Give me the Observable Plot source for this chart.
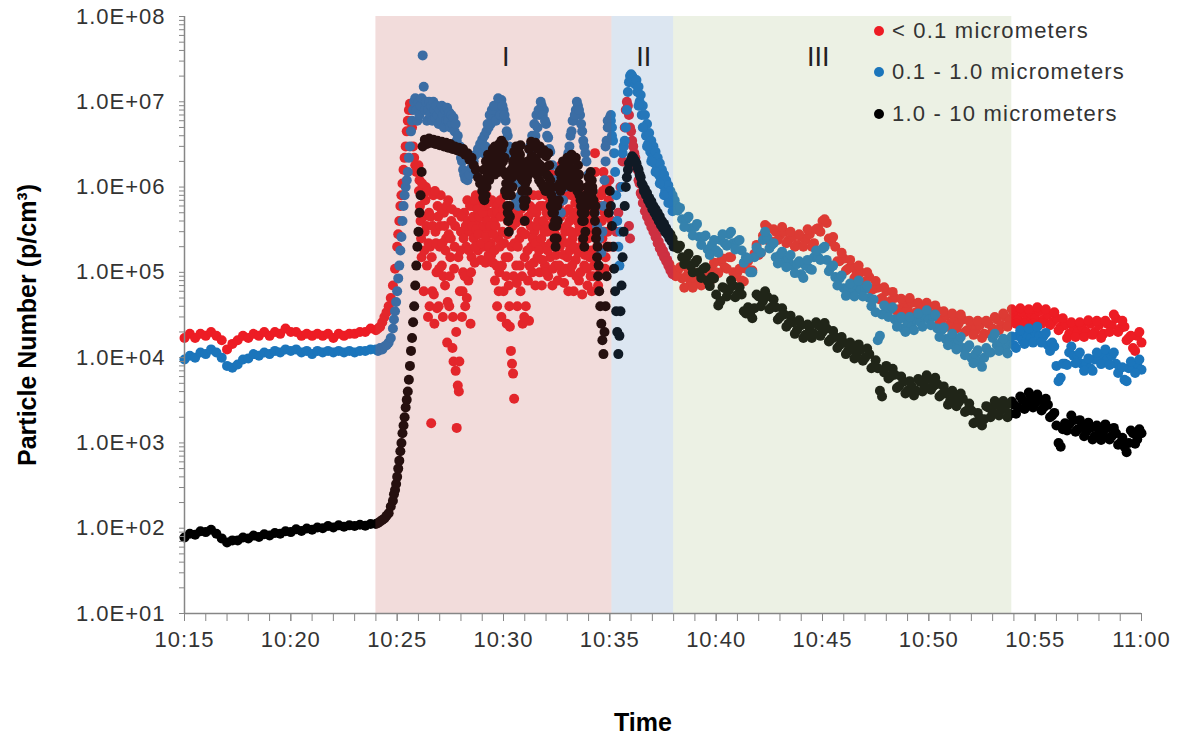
<!DOCTYPE html>
<html><head><meta charset="utf-8">
<script src="https://cdn.jsdelivr.net/npm/d3@7"></script>
<script src="https://cdn.jsdelivr.net/npm/@observablehq/plot@0.6"></script>
<style>
html,body{margin:0;padding:0;background:#fff;}
#chart{position:relative;width:1180px;height:740px;font-family:"Liberation Sans",Arial,sans-serif;}
.legend{position:absolute;left:874px;top:10px;font-size:22px;letter-spacing:1.2px;color:#333;}
.legend .row{height:41.5px;display:flex;align-items:center;}
.legend .sw{display:inline-block;width:10px;height:10px;border-radius:50%;margin-right:8px;}
</style></head><body><div id="chart"></div>
<script>
// [minutes after 10:15, particle number (p/cm3)]
const red = [
[0,1.7e4],[0.25,1.9e4],[0.5,1.7e4],[0.75,1.9e4],[1,1.8e4],[1.25,2e4],[1.5,1.8e4],[1.75,1.6e4],[2,1.25e4],[2.25,1.45e4],[2.5,1.6e4],[2.75,1.8e4],
[3,1.7e4],[3.25,1.9e4],[3.5,1.8e4],[3.75,2e4],[4,1.8e4],[4.25,2e4],[4.5,1.9e4],[4.75,2.2e4],[5,2e4],[5.25,2e4],[5.5,1.8e4],[5.75,1.9e4],
[6,1.8e4],[6.25,1.9e4],[6.5,1.8e4],[6.75,1.9e4],[7,1.7e4],[7.25,1.9e4],[7.5,1.8e4],[7.75,1.9e4],[8,1.9e4],[8.25,2e4],[8.5,2e4],[8.75,2.2e4],[9,2.1e4],
[9.1,2.2e4],[9.2,2.3e4],[9.3,2.6e4],[9.4,3e4],[9.5,3.4e4],[9.6,4e4],[9.7,5e4],[9.8,7e4],[9.9,1.1e5],[10,2e5],
[10.05,2.8e5],[10.1,4e5],[10.15,6e5],[10.2,8e5],[10.25,1.1e6],[10.3,1.6e6],[10.35,2.2e6],[10.4,3e6],[10.45,4.5e6],[10.5,6e6],
[10.55,8e6],[10.6,9.5e6],[10.65,8e6],[10.7,5e6],[10.75,3e6],[10.8,2.2e6],[10.85,1.8e6],[10.9,1.5e6],[10.95,1.7e6],[11,1.8e6],
[11.05,1.2e6],[11.1,4e5],[11.15,1.5e5],[11.2,8e5],[11.25,6e4],[11.3,3e5],[11.35,1e6],[11.4,1.2e5],[11.45,3e4],[11.5,5e5],
[11.55,2e5],[11.6,1.7e3],[11.65,6e4],[11.7,8e5],[11.75,2.5e4],[11.8,3e5],[11.85,1e5],[11.9,6e5],[11.95,4e4],[12,2e5],
[12.05,8e5],[12.1,1.2e5],[12.15,3e4],[12.2,5e5],[12.25,7e4],[12.3,2.5e5],[12.35,1.5e4],[12.4,7e5],[12.45,4e4],[12.5,1.5e5],
[12.55,4e5],[12.6,1.3e4],[12.65,9e3],[12.7,2e5],[12.75,7e3],[12.8,1.5e3],[12.85,4.7e3],[12.9,4e3],[12.95,6e4],[13,3e5],
[13.05,3e4],[13.1,1e5],[13.15,5e5],[13.2,4e4],[13.25,2e5],[13.3,7e5],[13.35,8e4],[13.4,3e5],[13.45,2.5e4],[13.5,1.5e5],
[13.55,6e5],[13.6,2.5e5],[13.65,1.3e5],[13.7,8e5],[13.75,4e5],[13.8,1.8e5],[13.85,6e5],[13.9,3e5],[13.95,1.4e5],[14,7e5],
[14.05,2e5],[14.1,4.5e5],[14.15,1.3e5],[14.2,8e5],[14.25,3e5],[14.3,1.6e5],[14.35,5e5],[14.4,2.2e5],[14.45,7e5],[14.5,1.3e5],
[14.55,4e5],[14.6,8e4],[14.65,6e5],[14.7,4e4],[14.75,2.5e5],[14.8,1e5],[14.85,7e5],[14.9,3e4],[14.95,3e5],[15,6e4],
[15.05,8e5],[15.1,1.5e5],[15.15,2.5e4],[15.2,4e5],[15.25,7e4],[15.3,2.3e4],[15.35,1.2e4],[15.4,8.5e3],[15.45,6.5e3],[15.5,3.3e3],
[15.55,5e5],[15.6,1.2e5],[15.65,4e4],[15.7,7e5],[15.75,2.5e5],[15.8,6e4],[15.85,3e5],[15.9,2.5e4],[15.95,8e5],[16,1.5e5],
[16.05,4e4],[16.1,4e5],[16.15,8e4],[16.2,2.7e4],[16.25,6e5],[16.3,2e5],[16.35,1e5],[16.4,8e5],[16.45,3e5],[16.5,7e4],
[16.55,5e5],[16.6,1.5e5],[16.65,8e5],[16.7,1e5],[16.75,3.5e5],[16.8,7e4],[16.85,6e5],[16.9,2e5],[16.95,1.2e5],[17,8e5],
[17.05,3e5],[17.1,9e4],[17.15,5e5],[17.2,1.5e5],[17.25,1.4e6],[17.3,7e4],[17.35,3e5],[17.4,8e5],[17.45,1.2e5],[17.5,4e5],
[17.55,8e4],[17.6,6e5],[17.65,2e5],[17.7,1.8e6],[17.75,1e5],[17.8,5e5],[17.85,7.5e4],[17.9,3e5],[17.95,8e5],[18,1.5e5],
[18.05,6e4],[18.1,4e5],[18.15,1e5],[18.2,8e5],[18.25,2.5e5],[18.3,6e4],[18.35,5e5],[18.4,1.4e5],[18.45,7e5],[18.5,3e5],
[18.55,8e4],[18.6,6e5],[18.65,2e5],[18.7,5.5e4],[18.75,4e5],[18.8,1.2e5],[18.85,8e5],[18.9,3e5],[18.95,7e4],[19,5e5],
[19.05,1.5e5],[19.1,9e4],[19.15,6e4],[19.2,3e5],[19.25,1.2e5],[19.3,2.5e6],[19.35,6e5],[19.4,2e5],[19.45,7e4],[19.5,4e5],
[19.55,1e5],[19.6,8e5],[19.65,2.5e5],[19.7,1.5e6],[19.75,5e5],[19.8,1.5e5],[19.85,1e6],[19.9,3e5],[19.95,7e5],[20,2e5],
[20.1,4e5],[20.2,2e5],[20.3,3e5],[20.4,5e5],[20.5,1e6],[20.6,2e6],[20.65,3e6],[20.7,5e6],[20.75,8e6],[20.8,1e7],
[20.85,9e6],[20.9,7e6],[20.9,3.5e5],[20.95,5e6],[20.95,2.5e5],[21,4.5e6],[21.05,3.5e6],[21.1,3e6],[21.2,2.2e6],[21.3,1.6e6],
[21.4,1.1e6],[21.5,8e5],[21.6,6.5e5],[21.7,5.5e5],[21.8,4.7e5],[21.9,4e5],[22,3.5e5],[22.1,3.1e5],[22.2,2.7e5],[22.3,2.3e5],
[22.4,2e5],[22.5,1.8e5],[22.6,1.6e5],[22.7,1.4e5],[22.8,1.25e5],[22.9,1.1e5],[23,1e5],
[23.2,1.05e5],[23.4,8.5e4],[23.6,9e4],[23.8,7.5e4],[24,8.5e4],[24.2,7.5e4],[24.4,9.5e4],[24.6,8e4],[24.8,1.1e5],[25,1e5],
[25.2,1.35e5],[25.4,1.15e5],[25.6,1.5e5],[25.8,1e5],[26,1e5],[26.2,8e4],[26.4,1.1e5],[26.6,1.05e5],[26.8,1.65e5],[27,1.6e5],
[27.2,2.7e5],[27.4,3.4e5],[27.6,2.3e5],[27.8,3e5],[28,2.7e5],[28.2,3e5],[28.4,2.4e5],[28.6,2.6e5],[28.8,2.1e5],[29,2.6e5],
[29.2,2.4e5],[29.4,2.8e5],[29.6,2.2e5],[29.8,3.3e5],[30,4e5],[30.2,3.8e5],[30.4,2.3e5],[30.6,2e5],[30.8,1.35e5],[31,1.45e5],
[31.2,1.1e5],[31.4,1.15e5],[31.6,9.5e4],[31.8,1e5],[32,7.8e4],[32.2,8.8e4],[32.4,6.4e4],[32.6,6.6e4],[32.8,5e4],[33,6e4],
[33.2,4.6e4],[33.4,5e4],[33.6,3.7e4],[33.8,4.4e4],[34,3.8e4],[34.2,4.4e4],[34.4,3.4e4],[34.6,3.9e4],[34.8,3.3e4],[35,4e4],
[35.2,3.2e4],[35.4,3.6e4],[35.6,2.8e4],[35.8,3.1e4],[36,2.5e4],[36.2,2.9e4],[36.4,2.5e4],[36.6,2.8e4],[36.8,2.1e4],[37,2.4e4],
[37.2,2.1e4],[37.4,2.4e4],[37.6,1.9e4],[37.8,2.5e4],[38,2.2e4],[38.2,2.8e4],[38.4,2.4e4],[38.6,3e4],[38.8,2.7e4],[39,3.3e4],
[39.2,2.8e4],[39.4,3.4e4],[39.6,2.8e4],[39.8,3.3e4],[40,2.9e4],[40.2,3.5e4],[40.4,2.8e4],[40.6,3.2e4],[40.8,2.6e4],[41,2.9e4],
[41.2,2.3e4],[41.4,2.4e4],[41.6,1.9e4],[41.8,2.3e4],[42,2e4],[42.2,2.3e4],[42.4,2e4],[42.6,2.5e4],[42.8,2e4],[43,2.4e4],
[43.2,1.9e4],[43.4,2.5e4],[43.6,2.4e4],[43.8,2.9e4],[44,2.2e4],[44.2,2.3e4],[44.4,1.7e4],[44.6,1.3e4],[44.8,1.8e4],[45,1.5e4]
];
const redExtra = [
[11.025,9e5],[11.075,6e5],[11.125,2.5e5],[11.175,1.1e6],[11.225,4.5e5],[11.275,1.8e5],[11.325,7e5],[11.375,3.5e5],[11.425,9e5],[11.475,2.2e5],
[11.525,4e4],[11.575,4.5e5],[11.625,1.5e5],[11.675,3.5e5],[11.725,5.5e4],[11.775,9e5],[11.825,2.2e5],[11.875,3.8e4],[11.925,4.5e5],[11.975,1.1e5],
[12.025,3.5e5],[12.075,5.5e5],[12.125,2.2e5],[12.175,9e4],[12.225,3.5e5],[12.275,1.8e5],[12.325,6e5],[12.375,4.5e4],[12.425,2.8e5],[12.475,9e4],
[12.525,2.5e5],[12.575,5.5e5],[12.625,3e4],[12.675,1.1e5],[12.725,3.5e5],[12.775,2e4],[12.825,5e5],[12.875,1.5e5],[12.925,9e3],[12.975,1.8e5],
[13.025,4.5e5],[13.075,6e4],[13.125,2.5e5],[13.175,9e4],[13.225,3.5e5],[13.275,5e4],[13.325,4e5],[13.375,1.8e5],[13.425,6e5],[13.475,1e5],
[13.525,3.5e5],[13.575,4.5e5],[13.625,7e5],[13.675,2e5],[13.725,3.2e5],[13.775,5.5e5],[13.825,2.8e5],[13.875,4.5e5],[13.925,7.5e5],[13.975,2.2e5],
[14.025,5e5],[14.075,3.5e5],[14.125,6e5],[14.175,2.6e5],[14.225,4e5],[14.275,6.5e5],[14.325,2e5],[14.375,3.5e5],[14.425,1.6e5],[14.475,5e5],
[14.525,2.8e5],[14.575,1.8e5],[14.625,3.5e5],[14.675,1.2e5],[14.725,5e5],[14.775,6e4],[14.825,2e5],[14.875,4.5e5],[14.925,1.2e5],[14.975,5.5e5],
[15.025,2.2e5],[15.075,4.5e5],[15.125,9e4],[15.175,2.8e5],[15.225,1.5e5],[15.275,4e4],[15.325,5e5],[15.375,2e5],[15.425,3.5e5],[15.475,9e4],
[15.525,2.2e5],[15.575,3.8e5],[15.625,7.5e4],[15.675,2e5],[15.725,4.5e5],[15.775,1.2e5],[15.825,5.5e5],[15.875,9e4],[15.925,4e5],[15.975,3e4],
[16.025,2.8e5],[16.075,6e5],[16.125,1.8e5],[16.175,4.5e5],[16.225,1.2e5],[16.275,3.5e5],[16.325,5e5],[16.375,2.5e5],[16.425,1.3e5],[16.475,5.5e5],
[16.525,2.2e5],[16.575,3.5e5],[16.625,4e5],[16.675,1.8e5],[16.725,6e5],[16.775,2.5e5],[16.825,1.4e5],[16.875,4e5],[16.925,3e5],[16.975,1e5],
[17.025,5e5],[17.075,1.8e5],[17.125,3.5e5],[17.175,6.5e5],[17.225,2.2e5],[17.275,4.5e5],[17.325,1.1e5],[17.375,5.5e5],[17.425,2.8e5],[17.475,1.6e5],
[17.525,6.5e5],[17.575,3.5e5],[17.625,1.2e5],[17.675,4.5e5],[17.725,2.5e5],[17.775,7e5],[17.825,1.6e5],[17.875,5e5],[17.925,1.1e5],[17.975,3.5e5],
[18.025,2.2e5],[18.075,5.5e5],[18.125,1.8e5],[18.175,3e5],[18.225,1.2e5],[18.275,4.5e5],[18.325,2e5],[18.375,6.5e5],[18.425,9e4],[18.475,4e5],
[18.525,1.7e5],[18.575,3.5e5],[18.625,1e5],[18.675,5e5],[18.725,2.4e5],[18.775,6.5e5],[18.825,1.6e5],[18.875,4.5e5],[18.925,1.1e5],[18.975,2.5e5],
[19.025,3.5e5],[19.075,6.5e5],[19.125,1.8e5],[19.175,4.5e5],[19.225,9e4],[19.275,7e5],[19.325,1.5e6],[19.375,3.5e5],[19.425,1.2e5],[19.475,2.5e5],
[19.525,6e5],[19.575,1.8e5],[19.625,4e5],[19.675,9e5],[19.725,3e5],[19.775,1.1e5],[19.825,6e5],[19.875,2e5],[19.925,4.5e5],[19.975,1.2e6],
[21.15,2.5e6],[21.25,1.7e6],[21.35,1.2e6],[21.45,8.5e5],[21.55,6.5e5],[21.65,5.2e5],[21.75,4.5e5],[21.85,3.9e5],[21.95,3.4e5],[22.05,3e5],
[22.15,2.6e5],[22.25,2.2e5],[22.35,1.9e5],[22.45,1.7e5],[22.55,1.5e5],[22.65,1.35e5],[22.75,1.2e5],[22.85,1.05e5],[22.95,9.5e4],[23.1,9e4],
[23.3,1.15e5],[23.5,6.6e4],[23.7,1.05e5],[23.9,6.6e4],[24.1,9.8e4],[24.3,7e4],[24.5,1.05e5],[24.7,7.8e4],[24.9,1.3e5],[25.1,9.8e4],
[25.3,1.45e5],[25.5,1.1e5],[25.7,1.5e5],[25.9,9e4],[26.1,1.1e5],[26.3,7.8e4],[26.5,1.35e5],[26.7,1.05e5],[26.9,2.1e5],[27.1,1.7e5],
[27.3,3.6e5],[27.5,2.3e5],[27.7,3.2e5],[27.9,2.4e5],[28.1,3.4e5],[28.3,2.2e5],[28.5,3e5],[28.7,2e5],[28.9,2.8e5],[29.1,2e5],
[29.3,3.2e5],[29.5,2e5],[29.7,3.2e5],[29.9,3e5],[30.1,4.2e5],[30.3,2.5e5],[30.5,2.6e5],[30.7,1.35e5],[30.9,1.7e5],[31.1,1.05e5],
[31.3,1.4e5],[31.5,8.6e4],[31.7,1.2e5],[31.9,7.2e4],[32.1,1e5],[32.3,6.2e4],[32.5,7.9e4],[32.7,4.8e4],[32.9,6.7e4],[33.1,4.3e4],
[33.3,5.9e4],[33.5,3.5e4],[33.7,4.9e4],[33.9,3.4e4],[34.1,5e4],[34.3,3.2e4],[34.5,4.4e4],[34.7,3e4],[34.9,4.4e4],[35.1,3e4],
[35.3,4.1e4],[35.5,2.6e4],[35.7,3.5e4],[35.9,2.3e4],[36.1,3.3e4],[36.3,2.2e4],[36.5,3.2e4],[36.7,2e4],[36.9,2.7e4],[37.1,1.85e4],
[37.3,2.7e4],[37.5,1.7e4],[37.7,2.7e4],[37.9,1.9e4],[38.1,3e4],[38.3,2.1e4],[38.5,3.3e4],[38.7,2.3e4],[38.9,3.7e4],[39.1,2.5e4],
[39.3,3.8e4],[39.5,2.5e4],[39.7,3.7e4],[39.9,2.5e4],[40.1,3.9e4],[40.3,2.5e4],[40.5,3.7e4],[40.7,2.4e4],[40.9,3.4e4],[41.1,2.1e4],
[41.3,2.9e4],[41.5,1.7e4],[41.7,2.6e4],[41.9,1.75e4],[42.1,2.6e4],[42.3,1.75e4],[42.5,2.75e4],[42.7,1.85e4],[42.9,2.7e4],[43.1,1.7e4],
[43.3,2.7e4],[43.5,2e4],[43.7,3.2e4],[43.9,2e4],[44.1,2.7e4],[44.3,1.6e4],[44.5,1.8e4],[44.7,1.2e4],[44.9,2e4]
];
const blue = [
[0,9.5e3],[0.25,1.05e4],[0.5,1e4],[0.75,1.15e4],[1,1.1e4],[1.25,1.25e4],[1.5,1.15e4],[1.75,1e4],[2,8e3],[2.25,7.6e3],[2.5,8.3e3],[2.75,9.5e3],
[3,9.8e3],[3.25,1.1e4],[3.5,1.05e4],[3.75,1.15e4],[4,1.1e4],[4.25,1.2e4],[4.5,1.15e4],[4.75,1.25e4],[5,1.2e4],[5.25,1.25e4],[5.5,1.15e4],[5.75,1.2e4],
[6,1.1e4],[6.25,1.2e4],[6.5,1.15e4],[6.75,1.2e4],[7,1.15e4],[7.25,1.2e4],[7.5,1.15e4],[7.75,1.2e4],[8,1.15e4],[8.25,1.2e4],[8.5,1.2e4],[8.75,1.25e4],[9,1.25e4],
[9.1,1.2e4],[9.2,1.3e4],[9.3,1.25e4],[9.4,1.35e4],[9.5,1.4e4],[9.6,1.5e4],[9.7,1.7e4],[9.8,2.2e4],[9.85,2.8e4],[9.9,3.5e4],[9.95,4.5e4],[10,6e4],
[10.05,8.5e4],[10.1,1.2e5],[10.15,1.8e5],[10.2,2.6e5],[10.25,4e5],[10.3,6e5],[10.35,8e5],[10.4,1e6],[10.45,1.2e6],[10.5,1.5e6],
[10.55,2.2e6],[10.6,3e6],[10.65,4.5e6],[10.7,6e6],[10.75,8e6],[10.8,1e7],[10.85,1.1e7],[10.9,8e6],[10.95,6e6],[11,1e7],
[11.05,7e6],[11.1,9e6],[11.15,1.1e7],[11.2,3.5e7],[11.25,1.5e7],[11.3,8e6],[11.35,1e7],[11.4,6e6],[11.45,8e6],[11.5,1e7],
[11.55,7e6],[11.6,9e6],[11.65,6e6],[11.7,1e7],[11.75,8e6],[11.8,6.5e6],[11.85,9e6],[11.9,7e6],[11.95,5.5e6],[12,8e6],
[12.05,6e6],[12.1,9e6],[12.15,7e6],[12.2,5e6],[12.25,8e6],[12.3,6e6],[12.35,8.5e6],[12.4,6e6],[12.45,7.5e6],[12.5,5e6],
[12.55,7e6],[12.6,5.5e6],[12.65,6.5e6],[12.7,4.5e6],[12.75,5.5e6],[12.8,3.5e6],[12.85,4e6],[12.9,2.8e6],[12.95,3e6],[13,2.2e6],
[13.05,2e6],[13.1,1.6e6],[13.15,1.4e6],[13.2,1.25e6],[13.3,1.2e6],[13.4,1.4e6],[13.5,1.7e6],[13.6,2e6],[13.7,2.4e6],[13.8,2.8e6],
[13.9,3.2e6],[14,3.6e6],[14.1,4e6],[14.2,4.5e6],[14.3,5e6],[14.4,5.5e6],[14.5,6.5e6],[14.6,7.5e6],[14.7,8.5e6],[14.8,9.5e6],
[14.9,1.05e7],[15,8e6],[15.1,6e6],[15.2,4e6],[15.3,2.5e6],[15.4,1.6e6],[15.5,1.1e6],[15.6,7e5],[15.7,6e5],[15.8,8e5],
[15.9,1e6],[16,1.3e6],[16.1,1.6e6],[16.2,2e6],[16.3,2.6e6],[16.4,3.2e6],[16.5,4e6],[16.6,5e6],[16.7,7e6],[16.8,9e6],
[16.9,8e6],[17,5.5e6],[17.1,3.8e6],[17.2,2.6e6],[17.3,1.8e6],[17.4,1.2e6],[17.5,8.5e5],[17.6,6.5e5],[17.7,5e5],[17.8,7e5],
[17.9,1e6],[18,1.8e6],[18.1,3e6],[18.2,4.5e6],[18.3,6e6],[18.4,8e6],[18.5,9e6],[18.6,7e6],[18.7,4.5e6],[18.8,3e6],
[18.9,2e6],[19,1.4e6],[19.1,1e6],[19.2,7e5],[19.3,5e5],[19.4,3.5e5],[19.5,2.5e5],[19.6,1.7e5],[19.65,3e5],[19.7,6e5],
[19.75,1.2e6],[19.8,2e6],[19.85,3.5e6],[19.9,5e6],[19.95,6e6],[20,6.5e6],[20.05,6e6],[20.1,5e6],[20.15,3.5e6],[20.2,2.5e6],
[20.25,1.5e6],[20.3,8e5],[20.35,4e5],[20.4,2e5],[20.45,1.2e5],[20.5,3e5],[20.55,1e6],[20.6,2.5e6],[20.65,3e6],[20.7,3.5e6],
[20.75,5e6],[20.8,8e6],[20.85,1.3e7],[20.9,1.7e7],[20.95,2e7],[21,2.1e7],[21.05,2e7],[21.1,1.9e7],[21.15,1.75e7],[21.2,1.6e7],
[21.3,1.3e7],[21.4,1e7],[21.5,7e6],[21.6,5e6],[21.7,4e6],[21.8,3.2e6],[21.9,2.6e6],[22,2.2e6],[22.1,1.9e6],[22.2,1.6e6],
[22.3,1.4e6],[22.4,1.2e6],[22.5,1.05e6],[22.6,9e5],[22.7,8e5],[22.8,7e5],[22.9,6.5e5],[23,6e5],
[23.2,5.3e5],[23.4,4.2e5],[23.6,4.2e5],[23.8,3.3e5],[24,3.4e5],[24.2,2.6e5],[24.4,2.6e5],[24.6,1.85e5],[24.8,2.1e5],[25,1.8e5],
[25.2,2.4e5],[25.4,2.2e5],[25.6,2.8e5],[25.8,2.2e5],[26,2.3e5],[26.2,1.8e5],[26.4,1.5e5],[26.6,1e5],[26.8,1.5e5],[27,1.75e5],
[27.2,2.4e5],[27.4,2.6e5],[27.6,2.1e5],[27.8,1.5e5],[28,1.6e5],[28.2,1.3e5],[28.4,1.45e5],[28.6,1.2e5],[28.8,1.25e5],[29,9.5e4],
[29.2,1.2e5],[29.4,1.1e5],[29.6,1.5e5],[29.8,1.5e5],[30,1.9e5],[30.2,1.4e5],[30.4,1.15e5],[30.6,8.8e4],[30.8,8.5e4],[31,6.5e4],
[31.2,6.4e4],[31.4,5.8e4],[31.6,7e4],[31.8,6.2e4],[32,6.4e4],[32.2,5e4],[32.4,4.8e4],[32.6,1.6e4],[32.8,3.2e4],[33,3.6e4],
[33.2,3.7e4],[33.4,2.8e4],[33.6,2.8e4],[33.8,2.2e4],[34,2.6e4],[34.2,2.3e4],[34.4,2.8e4],[34.6,2.6e4],[34.8,3.1e4],[35,2.8e4],
[35.2,3e4],[35.4,2.2e4],[35.6,2.1e4],[35.8,1.65e4],[36,1.7e4],[36.2,1.4e4],[36.4,1.6e4],[36.6,1.3e4],[36.8,1.3e4],[37,1e4],
[37.2,1.1e4],[37.4,9e3],[37.6,1e4],[37.8,1.15e4],[38,1.7e4],[38.2,1.4e4],[38.4,1.5e4],[38.6,1.25e4],[38.8,1.5e4],[39,1.4e4],
[39.2,1.8e4],[39.4,1.6e4],[39.6,1.9e4],[39.8,1.7e4],[40,2e4],[40.2,1.8e4],[40.4,1.8e4],[40.6,1.4e4],[40.8,1.5e4],[41,8e3],
[41.2,5.8e3],[41.4,8.5e3],[41.6,1.15e4],[41.8,1.05e4],[42,1.05e4],[42.2,8.5e3],[42.4,8.5e3],[42.6,7.5e3],[42.8,9.5e3],[43,9.5e3],
[43.2,1.1e4],[43.4,9.5e3],[43.6,1.05e4],[43.8,8.5e3],[44,7.5e3],[44.2,5.5e3],[44.4,7.5e3],[44.6,7.5e3],[44.8,8.5e3],[45,7.2e3]
];
const blueExtra = [
[14.05,2.5e6],[14.15,3e6],[14.25,5.5e6],[14.35,7e6],[14.45,8e6],[14.55,9e6],[14.65,6e6],[14.75,1.1e7],[14.85,7e6],[14.95,9e6],
[15.05,7e6],[15.15,4.5e6],[15.25,3e6],
[16.25,3e6],[16.35,4e6],[16.45,5.5e6],[16.55,7e6],[16.65,8e6],[16.75,1e7],[16.85,7e6],[16.95,6e6],[17.05,4e6],[17.15,2.8e6],
[18.05,2.5e6],[18.15,4e6],[18.25,6e6],[18.35,7e6],[18.45,1e7],[18.55,8e6],[18.65,5.5e6],[18.75,3.5e6],[18.85,2.5e6],
[19.8,3e6],[19.9,6e6],[20,5e6],[20.05,7e6],[20.1,4e6],
[21.25,1.8e7],[21.35,1.5e7],[21.45,1.2e7],[21.55,9e6],[21.65,7e6],[21.75,5.5e6],[21.85,4.3e6],[21.95,3.5e6],[22.05,3e6],[22.15,2.6e6],
[22.25,2.2e6],[22.35,1.9e6],[22.45,1.6e6],[22.55,1.4e6],[22.65,1.2e6],[22.75,1.05e6],[22.85,9e5],[22.95,8e5],[23.05,7e5],[23.15,6e5],
[21.35,9e6],[21.55,5e6],[21.75,3e6],[21.95,2e6],[22.15,1.5e6],[22.35,1.1e6],[22.55,8e5],[22.75,6.5e5],[22.95,5.2e5],
[23.3,5.7e5],[23.5,3.4e5],[23.7,4.5e5],[23.9,2.7e5],[24.1,3.7e5],[24.3,2.1e5],[24.5,2.7e5],[24.7,1.6e5],[24.9,2.4e5],[25.1,1.7e5],
[25.3,2.8e5],[25.5,2.05e5],[25.7,3e5],[25.9,1.85e5],[26.1,2.4e5],[26.3,1.3e5],[26.5,1.45e5],[26.7,1e5],[26.9,1.95e5],[27.1,1.7e5],
[27.3,3e5],[27.5,1.9e5],[27.7,2.2e5],[27.9,1.27e5],[28.1,1.75e5],[28.3,1.15e5],[28.5,1.6e5],[28.7,9.8e4],[28.9,1.35e5],[29.1,8.6e4],
[29.3,1.4e5],[29.5,1.07e5],[29.7,1.8e5],[29.9,1.4e5],[30.1,2e5],[30.3,1.03e5],[30.5,1.2e5],[30.7,7e4],[30.9,9.2e4],[31.1,5.3e4],
[31.3,7.4e4],[31.5,5.2e4],[31.7,8e4],[31.9,5.2e4],[32.1,7e4],[32.3,4e4],[32.5,3.4e4],[32.7,1.8e4],[32.9,4.1e4],[33.1,3e4],
[33.3,3.9e4],[33.5,2.3e4],[33.7,3e4],[33.9,2e4],[34.1,3e4],[34.3,2.1e4],[34.5,3.3e4],[34.7,2.3e4],[34.9,3.6e4],[35.1,2.4e4],
[35.3,3.2e4],[35.5,1.75e4],[35.7,2.25e4],[35.9,1.4e4],[36.1,1.9e4],[36.3,1.25e4],[36.5,1.75e4],[36.7,1.07e4],[36.9,1.4e4],[37.1,8.6e3],
[37.3,1.22e4],[37.5,7.8e3],[37.7,1.3e4],[37.9,1.15e4],[38.1,1.9e4],[38.3,1.2e4],[38.5,1.67e4],[38.7,1.12e4],[38.9,1.77e4],[39.1,1.3e4],
[39.3,2.1e4],[39.5,1.45e4],[39.7,2.2e4],[39.9,1.5e4],[40.1,2.3e4],[40.3,1.5e4],[40.5,1.95e4],[40.7,1.2e4],[40.9,1.35e4],[41.1,5.3e3],
[41.3,8.5e3],[41.5,8.2e3],[41.7,1.35e4],[41.9,8.6e3],[42.1,1.15e4],[42.3,7e3],[42.5,9.8e3],[42.7,7e3],[42.9,1.15e4],[43.1,8.4e3],
[43.3,1.25e4],[43.5,8.2e3],[43.7,1.15e4],[43.9,6.6e3],[44.1,7.7e3],[44.3,5.3e3],[44.5,9e3],[44.7,6.6e3],[44.9,9.5e3]
];
const black = [
[0,78],[0.25,86],[0.5,84],[0.75,92],[1,90],[1.25,96],[1.5,86],[1.75,76],[2,68],[2.25,72],[2.5,72],[2.75,78],
[3,76],[3.25,82],[3.5,79],[3.75,85],[4,82],[4.25,88],[4.5,86],[4.75,92],[5,90],[5.25,97],[5.5,93],[5.75,99],
[6,96],[6.25,102],[6.5,100],[6.75,106],[7,102],[7.25,108],[7.5,104],[7.75,108],[8,106],[8.25,110],[8.5,107],[8.75,112],[9,112],
[9.1,115],[9.2,120],[9.3,125],[9.4,130],[9.5,140],[9.6,150],[9.7,180],[9.8,210],[9.85,250],[9.9,280],[9.95,330],[10,400],
[10.05,500],[10.1,620],[10.15,800],[10.2,1e3],[10.25,1.3e3],[10.3,1.6e3],[10.35,2e3],[10.4,2.6e3],[10.45,3.2e3],[10.5,4e3],
[10.55,5.5e3],[10.6,8e3],[10.65,1.2e4],[10.7,1.7e4],[10.75,2.6e4],[10.8,4e4],[10.85,7e4],[10.9,1.2e5],[10.95,2e5],[11,3e5],
[11.05,5e5],[11.1,8e5],[11.15,1.5e6],[11.2,3e6],[11.3,3.6e6],[11.4,3.2e6],[11.5,3.7e6],[11.6,3.3e6],[11.7,3.6e6],[11.8,3.2e6],
[11.9,3.5e6],[12,3.1e6],[12.1,3.4e6],[12.2,3e6],[12.3,3.3e6],[12.4,2.9e6],[12.5,3.2e6],[12.6,2.8e6],[12.7,3e6],[12.8,2.7e6],
[12.9,2.9e6],[13,2.6e6],[13.1,2.8e6],[13.2,2.4e6],[13.3,2.5e6],[13.4,2.1e6],[13.5,2.2e6],[13.6,1.8e6],[13.7,1.6e6],[13.8,1.3e6],
[13.9,1.1e6],[14,9e5],[14.05,7.5e5],[14.1,7e5],[14.15,8e5],[14.2,1e6],[14.25,1.3e6],[14.3,1.7e6],[14.4,2.3e6],[14.5,2.8e6],
[14.6,3e6],[14.7,2.6e6],[14.8,3.2e6],[14.9,3.5e6],[15,3.2e6],[15.05,2.2e6],[15.1,1.4e6],[15.15,8e5],[15.2,5e5],[15.25,3e5],
[15.3,4.5e5],[15.35,8e5],[15.4,1.3e6],[15.45,2e6],[15.5,2.6e6],[15.6,3e6],[15.7,2.7e6],[15.8,3.1e6],[15.85,2e6],[15.9,1.2e6],
[15.95,7e5],[16,4e5],[16.05,7e5],[16.1,1.2e6],[16.15,2e6],[16.2,2.8e6],[16.3,3.4e6],[16.4,3e6],[16.5,3.3e6],[16.6,2.8e6],
[16.7,3e6],[16.8,2.5e6],[16.9,2.7e6],[17,2.3e6],[17.1,2.5e6],[17.15,1.8e6],[17.2,1.2e6],[17.25,8e5],[17.3,5e5],[17.35,3.5e5],
[17.4,2.5e5],[17.45,2e5],[17.5,2.5e5],[17.55,4e5],[17.6,7e5],[17.65,1.1e6],[17.7,1.6e6],[17.8,2e6],[17.9,1.8e6],[18,2.2e6],
[18.1,2e6],[18.2,2.4e6],[18.3,2.1e6],[18.4,2.2e6],[18.5,1.8e6],[18.55,1.4e6],[18.6,1e6],[18.65,6e5],[18.7,4e5],[18.75,2.5e5],
[18.8,2e5],[18.85,3e5],[18.9,6e5],[18.95,1e6],[19,1.3e6],[19.1,1.5e6],[19.15,1.2e6],[19.2,9e5],[19.25,6e5],[19.3,4e5],
[19.35,2.5e5],[19.4,1.5e5],[19.45,9e4],[19.5,6e4],[19.55,4e4],[19.6,2.5e4],[19.65,1.6e4],[19.7,1.1e4],[19.75,2e4],[19.8,4e4],
[19.85,9e4],[19.9,2e5],[19.95,5e5],[20,9e5],[20.05,6e5],[20.1,3.5e5],[20.15,2e5],[20.2,1.1e5],[20.25,6e4],[20.3,3.5e4],
[20.35,2e4],[20.4,1.1e4],[20.45,1.8e4],[20.5,3.5e4],[20.55,7e4],[20.6,1.5e5],[20.65,3e5],[20.7,6e5],[20.75,1e6],[20.8,1.3e6],
[20.85,1.6e6],[20.9,1.9e6],[21,2.1e6],[21.1,2.2e6],[21.2,2e6],[21.3,1.7e6],[21.4,1.4e6],[21.5,1.1e6],[21.6,9e5],[21.7,8e5],
[21.8,7e5],[21.9,6.3e5],[22,5.5e5],[22.1,5e5],[22.2,4.5e5],[22.3,4e5],[22.4,3.6e5],[22.5,3.3e5],[22.6,3e5],[22.7,2.8e5],
[22.8,2.5e5],[22.9,2.3e5],[23,2e5],
[23.2,1.9e5],[23.4,1.5e5],[23.6,1.5e5],[23.8,1.2e5],[24,1.3e5],[24.2,1e5],[24.4,1.1e5],[24.6,8e4],[24.8,8.8e4],[25,5.5e4],
[25.2,4.6e4],[25.4,6.5e4],[25.6,6.2e4],[25.8,7e4],[26,5.5e4],[26.2,5.5e4],[26.4,3.3e4],[26.6,3.2e4],[26.8,3.8e4],[27,5.2e4],
[27.2,4.6e4],[27.4,5.2e4],[27.6,3.9e4],[27.8,3.9e4],[28,3e4],[28.2,3.2e4],[28.4,2.5e4],[28.6,2.6e4],[28.8,2.1e4],[29,2.4e4],
[29.2,1.85e4],[29.4,2.2e4],[29.6,1.9e4],[29.8,2.4e4],[30,2e4],[30.2,2.2e4],[30.4,1.65e4],[30.6,1.75e4],[30.8,1.4e4],[31,1.5e4],
[31.2,1.2e4],[31.4,1.3e4],[31.6,1.1e4],[31.8,1.25e4],[32,1e4],[32.2,1.1e4],[32.4,7.8e3],[32.6,7.5e3],[32.8,3.5e3],[33,8e3],
[33.2,6e3],[33.4,6.3e3],[33.6,4.6e3],[33.8,5.2e3],[34,4.1e3],[34.2,4.6e3],[34.4,4.1e3],[34.6,5.2e3],[34.8,4.6e3],[35,5.6e3],
[35.2,4.6e3],[35.4,4.9e3],[35.6,3.7e3],[35.8,3.8e3],[36,3.1e3],[36.2,3.6e3],[36.4,3e3],[36.6,3.3e3],[36.8,2.4e3],[37,2.4e3],
[37.2,1.75e3],[37.4,1.95e3],[37.6,1.9e3],[37.8,2.6e3],[38,2.3e3],[38.2,2.8e3],[38.4,2.4e3],[38.6,2.7e3],[38.8,2.2e3],[39,2.8e3],
[39.2,2.6e3],[39.4,3.2e3],[39.6,2.9e3],[39.8,3.5e3],[40,2.9e3],[40.2,3.2e3],[40.4,2.6e3],[40.6,2.8e3],[40.8,2.1e3],[41,1.6e3],
[41.2,900],[41.4,1.7e3],[41.6,1.65e3],[41.8,1.85e3],[42,1.45e3],[42.2,1.6e3],[42.4,1.35e3],[42.6,1.5e3],[42.8,1.2e3],[43,1.4e3],
[43.2,1.25e3],[43.4,1.5e3],[43.6,1.2e3],[43.8,1.3e3],[44,1e3],[44.2,900],[44.4,1e3],[44.6,1.3e3],[44.8,1.1e3],[45,1.3e3]
];
const blackExtra = [
[14.025,1.2e6],[14.075,1.6e6],[14.125,1.1e6],[14.175,2e6],[14.225,1.5e6],[14.275,2.4e6],[14.325,1.2e6],[14.375,2e6],[14.425,1.6e6],[14.475,2.5e6],
[14.525,1.9e6],[14.575,1.4e6],[14.625,2.2e6],[14.675,1.7e6],[14.725,2.3e6],[14.775,1.5e6],[14.825,2.6e6],[14.875,1.8e6],[14.925,2.8e6],[14.975,2e6],
[15.025,1.5e6],[15.075,9e5],[15.125,1.1e6],[15.175,6e5],[15.225,4e5],[15.275,6e5],[15.325,1e6],[15.375,1.6e6],[15.425,1e6],[15.475,1.8e6],
[15.525,1.5e6],[15.575,2.2e6],[15.625,1.4e6],[15.675,2e6],[15.725,1.6e6],[15.775,2.4e6],[15.825,1.3e6],[15.875,9e5],[15.925,1.6e6],[15.975,6e5],
[16.025,1.1e6],[16.075,1.7e6],[16.125,9e5],[16.175,1.4e6],[16.225,2e6],[16.275,1.5e6],[16.325,2.3e6],[16.375,1.7e6],[16.425,2.2e6],[16.475,1.5e6],
[16.525,2.1e6],[16.575,1.4e6],[16.625,1.9e6],[16.675,1.2e6],[16.725,1.8e6],[16.775,1.1e6],[16.825,1.7e6],[16.875,1e6],[16.925,1.5e6],[16.975,9e5],
[17.025,1.4e6],[17.075,1e6],[17.125,1.3e6],[17.175,9e5],[17.225,6e5],[17.275,1e6],[17.325,7e5],[17.375,5e5],[17.425,4e5],[17.475,3.5e5],
[17.525,6e5],[17.575,1e6],[17.625,1.5e6],[17.675,9e5],[17.725,1.3e6],[17.775,1e6],[17.825,1.4e6],[17.875,1.1e6],[17.925,1.5e6],[17.975,1.2e6],
[18.025,1.6e6],[18.075,1.1e6],[18.125,1.5e6],[18.175,1e6],[18.225,1.6e6],[18.275,1.2e6],[18.325,1.4e6],[18.375,1e6],[18.425,1.3e6],[18.475,9e5],
[18.525,1.1e6],[18.575,8e5],[18.625,7e5],[18.675,5e5],[18.725,6e5],[18.775,4e5],[18.825,5e5],[18.875,8e5],[18.925,7e5],[18.975,1e6],
[19.025,9e5],[19.075,1.2e6],[19.125,8e5],[19.175,1e6],[19.225,7e5],[19.275,5e5],[19.325,6e5],[19.375,3e5],[19.425,2e5],[19.475,1.2e5],
[21.05,2.3e6],[21.15,2.1e6],[21.25,1.9e6],[21.35,1.6e6],[21.45,1.3e6],[21.55,1.05e6],[21.65,9.5e5],[21.75,8.5e5],[21.85,7.5e5],[21.95,6.8e5],
[22.05,6e5],[22.15,5.5e5],[22.25,5e5],[22.35,4.5e5],[22.45,4e5],[22.55,3.7e5],[22.65,3.3e5],[22.75,3e5],[22.85,2.8e5],[22.95,2.5e5],[23.1,2.1e5],
[23.3,2.05e5],[23.5,1.25e5],[23.7,1.65e5],[23.9,1e5],[24.1,1.4e5],[24.3,8.6e4],[24.5,1.15e5],[24.7,6.9e4],[24.9,8.5e4],[25.1,4.1e4],
[25.3,6.7e4],[25.5,5.2e4],[25.7,8e4],[25.9,5.1e4],[26.1,6.7e4],[26.3,3.5e4],[26.5,3.9e4],[26.7,2.9e4],[26.9,5.5e4],[27.1,4e4],
[27.3,6e4],[27.5,3.7e4],[27.7,4.8e4],[27.9,2.8e4],[28.1,3.8e4],[28.3,2.3e4],[28.5,3.1e4],[28.7,1.9e4],[28.9,2.75e4],[29.1,1.7e4],
[29.3,2.45e4],[29.5,1.7e4],[29.7,2.6e4],[29.9,1.8e4],[30.1,2.55e4],[30.3,1.55e4],[30.5,2.05e4],[30.7,1.3e4],[30.9,1.75e4],[31.1,1.1e4],
[31.3,1.5e4],[31.5,9.8e3],[31.7,1.43e4],[31.9,9.2e3],[32.1,1.28e4],[32.3,7.5e3],[32.5,9.3e3],[32.7,4.1e3],[32.9,6.7e3],[33.1,5.7e3],
[33.3,7.4e3],[33.5,4.4e3],[33.7,6e3],[33.9,3.8e3],[34.1,5.3e3],[34.3,3.6e3],[34.5,5.6e3],[34.7,4e3],[34.9,6.2e3],[35.1,4.2e3],
[35.3,5.8e3],[35.5,3.5e3],[35.7,4.6e3],[35.9,2.8e3],[36.1,4.1e3],[36.3,2.7e3],[36.5,3.8e3],[36.7,2.3e3],[36.9,2.9e3],[37.1,1.7e3],
[37.3,2.25e3],[37.5,1.6e3],[37.7,2.7e3],[37.9,2e3],[38.1,3.1e3],[38.3,2.1e3],[38.5,3.1e3],[38.7,2e3],[38.9,3.05e3],[39.1,2.2e3],
[39.3,3.5e3],[39.5,2.5e3],[39.7,3.9e3],[39.9,2.6e3],[40.1,3.7e3],[40.3,2.4e3],[40.5,3.3e3],[40.7,2e3],[40.9,2.25e3],[41.1,1e3],
[41.3,1.45e3],[41.5,1.4e3],[41.7,2.1e3],[41.9,1.35e3],[42.1,1.85e3],[42.3,1.2e3],[42.5,1.73e3],[42.7,1.1e3],[42.9,1.6e3],[43.1,1.08e3],
[43.3,1.65e3],[43.5,1.1e3],[43.7,1.5e3],[43.9,950],[44.1,1.15e3],[44.3,780],[44.5,1.4e3],[44.7,980],[44.9,1.45e3]
];
const seriesNames = ["< 0.1 micrometers", "0.1 - 1.0 micrometers", "1.0 - 10 micrometers"];
const seriesColors = ["#ed1c24", "#1b75bb", "#000000"];
// shaded phases: start/end in minutes after 10:15, label position in minutes
const phases = [
  {label: "I", start: 9, end: 20.1, labelAt: 15.1},
  {label: "II", start: 20.1, end: 23, labelAt: 21.6},
  {label: "III", start: 23, end: 38.9, labelAt: 29.8}
];
const phaseColors = {"I": "#be504b", "II": "#5082b9", "III": "#a0b978"};
const xTickLabels = ["10:15","10:20","10:25","10:30","10:35","10:40","10:45","10:50","10:55","11:00"];
const yTickValues = [1e1,1e2,1e3,1e4,1e5,1e6,1e7,1e8];
const yTickLabels = ["1.0E+01","1.0E+02","1.0E+03","1.0E+04","1.0E+05","1.0E+06","1.0E+07","1.0E+08"];

const T0 = Date.UTC(2020,0,1,10,15);
const at = m => new Date(T0 + m*60000);
const parseHM = s => { const [h,mm] = s.split(":").map(Number); return new Date(Date.UTC(2020,0,1,h,mm)); };
const rows = pts => pts.map(([m,v]) => ({time: at(m), value: v}));
const xStart = at(0), xEnd = at(45);
const minuteTicks = d3.utcMinute.range(xStart, new Date(+xEnd + 1));
const yMinor = [];
for (let k = 1; k < 8; k++) for (let j = 2; j <= 9; j++) yMinor.push(j * Math.pow(10, k));
const axisColor = "#868686";
const R = 5;

const chart = Plot.plot({
  width: 1180, height: 740,
  marginLeft: 184, marginRight: 39, marginTop: 16, marginBottom: 127,
  style: {fontFamily: '"Liberation Sans", Arial, sans-serif', fontSize: "22px", color: "#333", background: "transparent", overflow: "visible"},
  x: {type: "utc", domain: [xStart, xEnd]},
  y: {type: "log", domain: [1e1, 1e8]},
  marks: [
    Plot.dot(rows(red.concat(redExtra)), {x: "time", y: "value", r: R, fill: seriesColors[0]}),
    Plot.dot(rows(blue.concat(blueExtra)), {x: "time", y: "value", r: R, fill: seriesColors[1]}),
    Plot.dot(rows(black.concat(blackExtra)), {x: "time", y: "value", r: R, fill: seriesColors[2]}),
    ...phases.map(p => Plot.rect([p], {x1: d => at(d.start), x2: d => at(d.end), y1: () => 1e1, y2: () => 1e8, fill: phaseColors[p.label], fillOpacity: 0.2})),
    Plot.text(phases, {x: d => at(d.labelAt), y: () => 3.3e7, text: "label", fontSize: 27, fill: "#222"}),
    Plot.ruleX([xStart], {stroke: axisColor, strokeWidth: 1.5}),
    Plot.ruleY([1e1], {stroke: axisColor, strokeWidth: 1.5}),
    Plot.axisY({ticks: yMinor, tickSize: 5, tickFormat: () => "", stroke: axisColor, label: null}),
    Plot.axisY({ticks: yTickValues, tickSize: 5, tickPadding: 14, tickFormat: d => yTickLabels[yTickValues.indexOf(d)], stroke: axisColor, label: null}),
    Plot.axisX({ticks: minuteTicks, tickSize: 8, tickFormat: () => "", stroke: axisColor, label: null}),
    Plot.axisX({ticks: xTickLabels.map(parseHM), tickSize: 8, tickPadding: 10, tickFormat: d3.utcFormat("%H:%M"), stroke: axisColor, label: null}),
    Plot.text(["Particle Number (p/cm³)"], {text: d => d, frameAnchor: "left", textAnchor: "middle", lineAnchor: "middle", dx: -157, dy: 10, rotate: -90, fontSize: 25, fontWeight: "bold", fill: "#000"}),
    Plot.text(["Time"], {text: d => d, frameAnchor: "bottom", lineAnchor: "middle", dx: -20, dy: 109, fontSize: 25, fontWeight: "bold", fill: "#000"})
  ]
});
d3.select(chart).selectAll("g[aria-label='y-axis tick label'] text, g[aria-label='x-axis tick label'] text").style("letter-spacing", "1px");
const host = document.getElementById("chart");
host.appendChild(chart);
const legend = document.createElement("div");
legend.className = "legend";
seriesNames.forEach((name, i) => {
  const row = document.createElement("div");
  row.className = "row";
  const sw = document.createElement("span");
  sw.className = "sw";
  sw.style.background = seriesColors[i];
  row.appendChild(sw);
  row.appendChild(document.createTextNode(name));
  legend.appendChild(row);
});
host.appendChild(legend);
</script></body></html>
